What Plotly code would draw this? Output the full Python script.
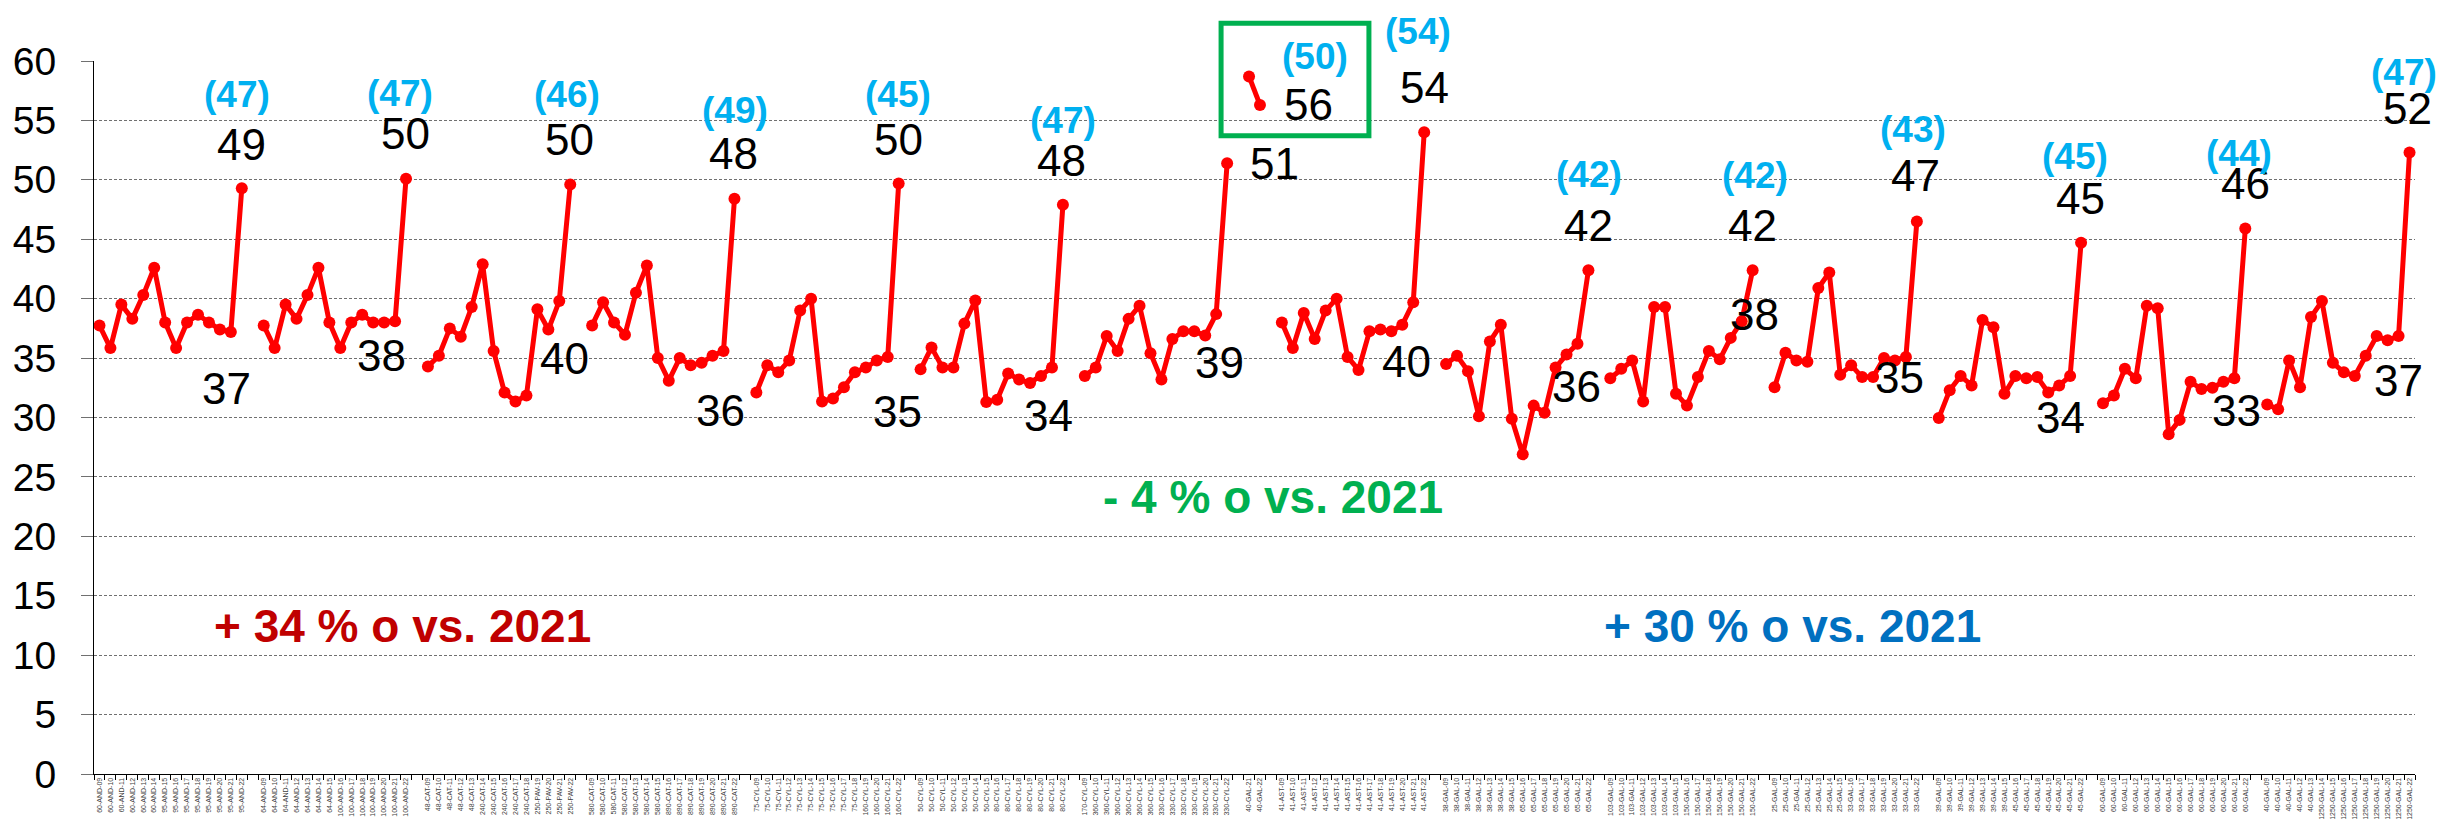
import plotly.graph_objects as go

# ---------------- data ----------------
# tick-label segments per group: (prefix, first year, last year)
G1_SEGS = [("60-AND", 9, 14), ("95-AND", 15, 22)]
G2_SEGS = [("64-AND", 9, 15), ("100-AND", 16, 22)]
G3_SEGS = [("48-CAT", 9, 13), ("240-CAT", 14, 18), ("250-PAV", 19, 22)]
G4_SEGS = [("580-CAT", 9, 15), ("890-CAT", 16, 22)]
G5_SEGS = [("75-CYL", 9, 18), ("160-CYL", 19, 22)]
G6_SEGS = [("50-CYL", 9, 15), ("80-CYL", 16, 22)]
G7_SEGS = [("170-CYL", 9, 9), ("360-CYL", 10, 15), ("330-CYL", 16, 22)]
G8_SEGS = [("40-GAL", 21, 22)]
G9_SEGS = [("41-AST", 9, 22)]
G10_SEGS = [("38-GAL", 9, 15), ("65-GAL", 16, 22)]
G11_SEGS = [("103-GAL", 9, 15), ("150-GAL", 16, 22)]
G12_SEGS = [("25-GAL", 9, 15), ("33-GAL", 16, 22)]
G13_SEGS = [("39-GAL", 9, 15), ("45-GAL", 16, 22)]
G14_SEGS = [("60-GAL", 9, 22)]
G15_SEGS = [("40-GAL", 9, 13), ("1250-GAL", 14, 22)]

G1_VALS = [37.75, 35.84, 39.5, 38.3, 40.3, 42.6, 38.0, 35.84, 38.0, 38.65, 38.0, 37.4, 37.2, 49.3]
G2_VALS = [37.75, 35.84, 39.5, 38.3, 40.3, 42.6, 38.0, 35.84, 38.0, 38.65, 38.0, 38.0, 38.1, 50.1]
G3_VALS = [34.3, 35.2, 37.5, 36.8, 39.3, 42.9, 35.6, 32.1, 31.35, 31.85, 39.1, 37.4, 39.8, 49.6]
G4_VALS = [37.75, 39.7, 38.0, 36.97, 40.5, 42.8, 35.0, 33.1, 35.0, 34.4, 34.6, 35.2, 35.6, 48.4]
G5_VALS = [32.1, 34.4, 33.8, 34.8, 39.0, 40.0, 31.35, 31.6, 32.55, 33.8, 34.2, 34.8, 35.1, 49.7]
G6_VALS = [34.05, 35.9, 34.2, 34.2, 37.9, 39.85, 31.3, 31.5, 33.7, 33.2, 32.9, 33.5, 34.2, 47.9]
G7_VALS = [33.5, 34.2, 36.85, 35.6, 38.3, 39.4, 35.4, 33.2, 36.6, 37.25, 37.25, 36.9, 38.7, 51.4]
G8_VALS = [58.7, 56.3]
G9_VALS = [38.0, 35.84, 38.8, 36.6, 39.0, 40.0, 35.1, 34.0, 37.25, 37.4, 37.25, 37.8, 39.7, 54.0]
G10_VALS = [34.5, 35.2, 33.9, 30.1, 36.4, 37.8, 29.9, 26.9, 31.0, 30.4, 34.2, 35.3, 36.2, 42.4]
G11_VALS = [33.3, 34.1, 34.8, 31.35, 39.3, 39.3, 32.0, 31.0, 33.4, 35.6, 34.9, 36.7, 38.1, 42.4]
G12_VALS = [32.55, 35.45, 34.8, 34.7, 40.9, 42.2, 33.6, 34.4, 33.4, 33.4, 35.0, 34.8, 35.1, 46.5]
G13_VALS = [29.95, 32.3, 33.5, 32.7, 38.2, 37.6, 32.0, 33.5, 33.3, 33.4, 32.1, 32.7, 33.5, 44.7]
G14_VALS = [31.2, 31.85, 34.1, 33.3, 39.4, 39.2, 28.6, 29.8, 33.0, 32.4, 32.5, 33.0, 33.3, 45.9]
G15_VALS = [31.1, 30.7, 34.8, 32.55, 38.45, 39.8, 34.6, 33.8, 33.5, 35.2, 36.85, 36.5, 36.85, 52.3]

# value labels: on the 2021 point (low), on the 2022 point (high), and reference value (blue)
LOW_LABELS = ["37", "38", "40", "36", "35", "34", "39", None, "40", "36", "38", "35", "34", "33", "37"]
HIGH_LABELS = ["49", "50", "50", "48", "50", "48", "51", "56", "54", "42", "42", "47", "45", "46", "52"]
BLUE_LABELS = ["(47)", "(47)", "(46)", "(49)", "(45)", "(47)", None, "(50)", "(54)", "(42)",
               "(42)", "(43)", "(45)", "(44)", "(47)"]

NOTE_TEXTS = ["+ 34 % o vs. 2021", "- 4 % o vs. 2021", "+ 30 % o vs. 2021"]

# ---------------- styles ----------------
LOW_OFF = [(-4, 57), (-14, 34), (5, 57), (-3, 60), (10, 55), (-3, 48), (3, 48), None,
           (-7, 59), (-1, 43), (13, -7), (-6, 21), (-10, 42), (2, 32), (0, 44)]
HIGH_OFF = [(0, -44), (-1, -45), (-1, -45), (-1, -45), (0, -44), (-1, -44), (47, 0), (49, 0),
            (0, -45), (0, -45), (0, -45), (-1, -46), (-1, -44), (0, -45), (-2, -44)]
BLUE_OFF = [(-5, -94), (-6, -85), (-3, -90), (1, -88), (-1, -89), (0, -84), None, (55, -48),
            (-6, -101), (1, -96), (2, -95), (-4, -92), (-6, -86), (-6, -75), (-6, -80)]
NOTE_POS = [(0.1330, 0.207), (0.508, 0.388), (0.7316, 0.207)]
NOTE_COLORS = ["#C00000", "#00B050", "#0070C0"]

FONT = "Arial, Liberation Sans, sans-serif"
RED = "#FF0000"

SEGS = [G1_SEGS, G2_SEGS, G3_SEGS, G4_SEGS, G5_SEGS, G6_SEGS, G7_SEGS, G8_SEGS,
        G9_SEGS, G10_SEGS, G11_SEGS, G12_SEGS, G13_SEGS, G14_SEGS, G15_SEGS]
VALS = [G1_VALS, G2_VALS, G3_VALS, G4_VALS, G5_VALS, G6_VALS, G7_VALS, G8_VALS,
        G9_VALS, G10_VALS, G11_VALS, G12_VALS, G13_VALS, G14_VALS, G15_VALS]


def seg_labels(segs):
    out = []
    for prefix, a, b in segs:
        for yr in range(a, b + 1):
            out.append(f"{prefix}-{yr:02d}")
    return out


cats, ys = [], []
group_cats = []
for gi, (segs, vals) in enumerate(zip(SEGS, VALS)):
    labs = seg_labels(segs)
    group_cats.append(labs)
    cats.extend(labs)
    ys.extend(vals)
    if gi < len(SEGS) - 1:
        cats.append("\u00a0" * (gi + 1))  # empty separator category
        ys.append(None)

fig = go.Figure()
fig.add_trace(go.Scatter(
    x=cats, y=ys, mode="lines+markers",
    line=dict(color=RED, width=5),
    marker=dict(color=RED, size=12),
    connectgaps=False, showlegend=False, cliponaxis=False,
))

ann = []
for gi in range(len(SEGS)):
    labs = group_cats[gi]
    vals = VALS[gi]
    if LOW_LABELS[gi] is not None:
        dx, dy = LOW_OFF[gi]
        ann.append(dict(x=labs[-2], y=vals[-2], text=LOW_LABELS[gi], xshift=dx, yshift=-dy,
                        font=dict(family=FONT, size=44, color="#000000")))
    dx, dy = HIGH_OFF[gi]
    ann.append(dict(x=labs[-1], y=vals[-1], text=HIGH_LABELS[gi], xshift=dx, yshift=-dy,
                    font=dict(family=FONT, size=44, color="#000000")))
    if BLUE_LABELS[gi] is not None:
        dx, dy = BLUE_OFF[gi]
        ann.append(dict(x=labs[-1], y=vals[-1], text="<b>" + BLUE_LABELS[gi] + "</b>",
                        xshift=dx, yshift=-dy,
                        font=dict(family=FONT, size=37, color="#00B0F0")))
for a in ann:
    a.update(xref="x", yref="y", showarrow=False, xanchor="center", yanchor="middle")

for txt, (px, py), col in zip(NOTE_TEXTS, NOTE_POS, NOTE_COLORS):
    ann.append(dict(x=px, y=py, xref="paper", yref="paper", text="<b>" + txt + "</b>",
                    showarrow=False, xanchor="center", yanchor="middle",
                    font=dict(family=FONT, size=46, color=col)))

fig.update_layout(
    width=2448, height=819,
    margin=dict(l=86, r=41, t=53, b=53),
    paper_bgcolor="white", plot_bgcolor="white",
    annotations=ann,
    shapes=[dict(type="rect", xref="paper", yref="paper",
                 x0=0.4856, x1=0.5493, y0=0.895, y1=1.053,
                 line=dict(color="#00B050", width=5), fillcolor="rgba(0,0,0,0)")],
    xaxis=dict(
        type="category", categoryorder="array", categoryarray=cats,
        range=[-0.5, len(cats) - 0.5],
        tickangle=-90, tickfont=dict(family=FONT, size=7, color="#404040"),
        ticks="outside", tickson="boundaries", ticklen=5, tickcolor="#000000",
        showline=True, linecolor="#000000", linewidth=1,
        showgrid=False, automargin=False, fixedrange=True,
    ),
    yaxis=dict(
        range=[0, 60], tick0=0, dtick=5,
        showgrid=True, gridcolor="#707070", griddash="3px,2px", gridwidth=1,
        ticks="outside", ticklen=12, tickcolor="#707070",
        tickfont=dict(family=FONT, size=39, color="#000000"),
        ticklabelstandoff=17,
        showline=True, linecolor="#000000", linewidth=1,
        zeroline=False, automargin=False,
    ),
)

fig.write_html("out.html")
